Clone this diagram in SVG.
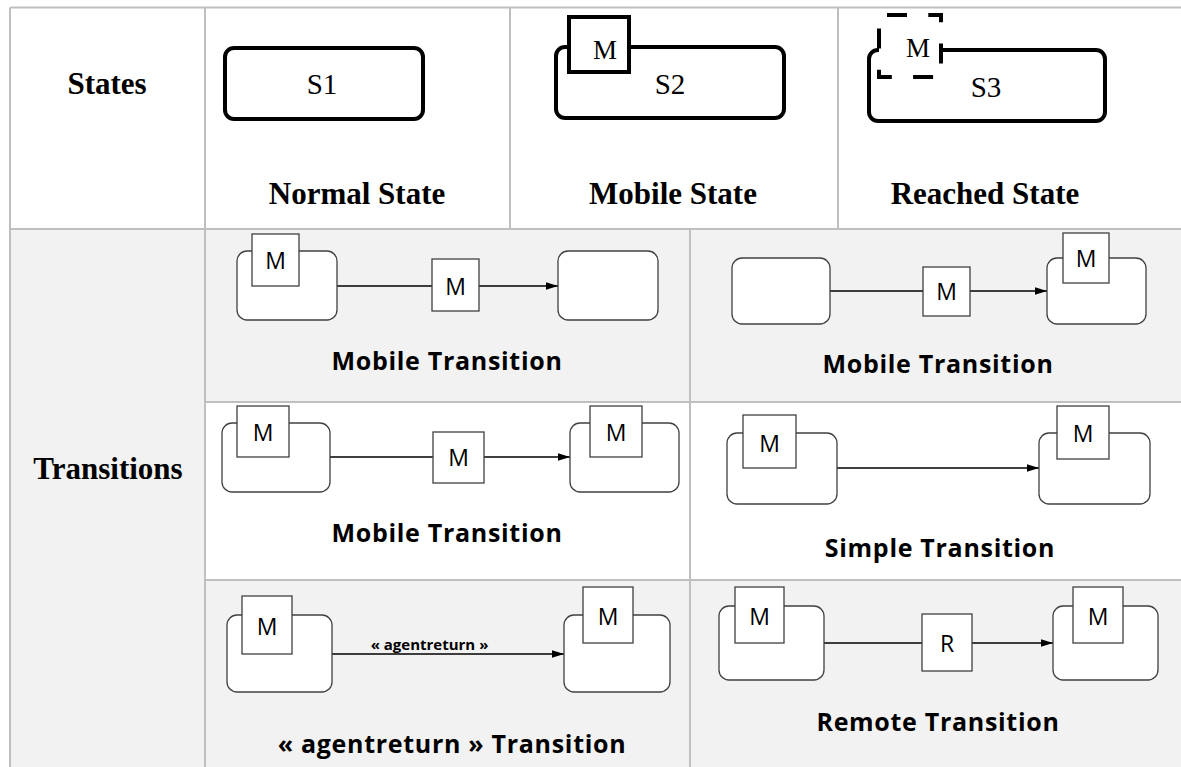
<svg xmlns="http://www.w3.org/2000/svg" width="1181" height="767" viewBox="0 0 1181 767">
<defs>
<style>
.grid{stroke:#bfbfbf;stroke-width:2;fill:none}
.st{fill:#fff;stroke:#000;stroke-width:4}
.stm{fill:#fff;stroke:#000;stroke-width:4}
.dash{fill:#fff;stroke:#000;stroke-width:4;stroke-dasharray:20 21.3;stroke-dashoffset:33.3}
.tb{font-family:"Liberation Serif",serif;font-weight:bold;font-size:31px;text-anchor:middle;fill:#000}
.tr{font-family:"Liberation Serif",serif;font-size:29px;text-anchor:middle;fill:#000}
.trm{font-family:"Liberation Serif",serif;font-size:27px;text-anchor:middle;fill:#000}
.box{fill:#fff;stroke:#404040;stroke-width:1.3}
.tok{fill:#fff;stroke:#404040;stroke-width:1.3}
.m{font-family:"Open Sans",sans-serif;font-size:23px;text-anchor:middle;fill:#000}
.lbl{font-family:"Open Sans",sans-serif;font-weight:bold;font-size:25px;letter-spacing:0.7px;text-anchor:middle;fill:#000}
.small{font-family:"Open Sans",sans-serif;font-weight:bold;font-size:15px;text-anchor:middle;fill:#000}
.conn{stroke:#000;stroke-width:1.3;fill:none}
</style>
<marker id="arr" markerUnits="userSpaceOnUse" markerWidth="12" markerHeight="8" refX="12" refY="4" orient="auto">
<path d="M0,0.3 L12,4 L0,7.7 z" fill="#000"/>
</marker>
</defs>
<rect width="1181" height="767" fill="#fff"/>
<g id="backgrounds">
<rect x="10" y="229" width="195" height="538" fill="#f2f2f2"/>
<rect x="205" y="229" width="976" height="173" fill="#f2f2f2"/>
<rect x="205" y="580" width="976" height="187" fill="#f2f2f2"/>
</g>
<g id="grid" class="grid">
<line x1="10" y1="7.5" x2="1181" y2="7.5"/>
<line x1="10" y1="229" x2="1181" y2="229"/>
<line x1="205" y1="402" x2="1181" y2="402"/>
<line x1="205" y1="580" x2="1181" y2="580"/>
<line x1="10" y1="7.5" x2="10" y2="767"/>
<line x1="205" y1="7.5" x2="205" y2="767"/>
<line x1="510" y1="7.5" x2="510" y2="229"/>
<line x1="838" y1="7.5" x2="838" y2="229"/>
<line x1="690" y1="229" x2="690" y2="767"/>
</g>
<g id="row-labels">
<text class="tb" x="107" y="94">States</text>
<text class="tb" x="108" y="479">Transitions</text>
</g>
<g id="normal-state">
<rect class="st" x="225" y="48" width="198" height="71" rx="9"/>
<text class="tr" x="322" y="94">S1</text>
<text class="tb" x="357" y="204">Normal State</text>
</g>
<g id="mobile-state">
<rect class="st" x="556" y="47" width="228" height="71" rx="9"/>
<rect class="stm" x="569" y="17" width="60" height="55"/>
<text class="trm" x="605" y="59">M</text>
<text class="tr" x="670" y="94">S2</text>
<text class="tb" x="673" y="204">Mobile State</text>
</g>
<g id="reached-state">
<rect class="st" x="869" y="50" width="236" height="71" rx="9"/>
<rect class="dash" x="879" y="15" width="62" height="62"/>
<text class="trm" x="918" y="57">M</text>
<text class="tr" x="986" y="97">S3</text>
<text class="tb" x="985" y="204">Reached State</text>
</g>
<g id="connectors">
<line class="conn" x1="337" y1="286" x2="558" y2="286" marker-end="url(#arr)"/>
<line class="conn" x1="830" y1="291" x2="1047" y2="291" marker-end="url(#arr)"/>
<line class="conn" x1="330" y1="457" x2="570" y2="457" marker-end="url(#arr)"/>
<line class="conn" x1="837" y1="468" x2="1039" y2="468" marker-end="url(#arr)"/>
<line class="conn" x1="332" y1="654" x2="564" y2="654" marker-end="url(#arr)"/>
<line class="conn" x1="824" y1="643" x2="1053" y2="643" marker-end="url(#arr)"/>
</g>
<g id="mobile-transition-1">
<rect class="box" x="237" y="251" width="100" height="69" rx="10"/>
<rect class="tok" x="252" y="234" width="47" height="52"/>
<text class="m" x="275.5" y="269">M</text>
<rect class="tok" x="432" y="259" width="47" height="52"/>
<text class="m" x="455.5" y="295">M</text>
<rect class="box" x="558" y="251" width="100" height="69" rx="10"/>
<text class="lbl" x="447" y="370">Mobile Transition</text>
</g>
<g id="mobile-transition-2">
<rect class="box" x="732" y="258" width="98" height="66" rx="10"/>
<rect class="tok" x="923" y="267" width="47" height="49"/>
<text class="m" x="946.5" y="300">M</text>
<rect class="box" x="1047" y="258" width="99" height="66" rx="10"/>
<rect class="tok" x="1063" y="233" width="46" height="50"/>
<text class="m" x="1086" y="267">M</text>
<text class="lbl" x="938" y="373">Mobile Transition</text>
</g>
<g id="mobile-transition-3">
<rect class="box" x="222" y="423" width="108" height="69" rx="10"/>
<rect class="tok" x="237" y="406" width="52" height="51"/>
<text class="m" x="263" y="441">M</text>
<rect class="tok" x="433" y="432" width="51" height="51"/>
<text class="m" x="458.5" y="466">M</text>
<rect class="box" x="570" y="423" width="109" height="69" rx="10"/>
<rect class="tok" x="590" y="406" width="52" height="51"/>
<text class="m" x="616" y="441">M</text>
<text class="lbl" x="447" y="542">Mobile Transition</text>
</g>
<g id="simple-transition">
<rect class="box" x="727" y="433" width="110" height="71" rx="10"/>
<rect class="tok" x="743" y="415" width="53" height="53"/>
<text class="m" x="769.5" y="452">M</text>
<rect class="box" x="1039" y="433" width="111" height="71" rx="10"/>
<rect class="tok" x="1057" y="406" width="52" height="53"/>
<text class="m" x="1083" y="442">M</text>
<text class="lbl" x="940" y="557">Simple Transition</text>
</g>
<g id="agentreturn-transition">
<rect class="box" x="227" y="615" width="105" height="77" rx="10"/>
<rect class="tok" x="242" y="596" width="50" height="58"/>
<text class="m" x="267" y="635">M</text>
<text class="small" x="429.5" y="650">« agentreturn »</text>
<rect class="box" x="564" y="615" width="106" height="77" rx="10"/>
<rect class="tok" x="583" y="587" width="50" height="56"/>
<text class="m" x="608" y="625">M</text>
<text class="lbl" x="452" y="753">« agentreturn » Transition</text>
</g>
<g id="remote-transition">
<rect class="box" x="719" y="606" width="105" height="74" rx="10"/>
<rect class="tok" x="735" y="587" width="49" height="56"/>
<text class="m" x="759.5" y="625">M</text>
<rect class="tok" x="922" y="614" width="50" height="57"/>
<text class="m" x="947" y="652">R</text>
<rect class="box" x="1053" y="606" width="105" height="74" rx="10"/>
<rect class="tok" x="1073" y="587" width="50" height="56"/>
<text class="m" x="1098" y="625">M</text>
<text class="lbl" x="938" y="731">Remote Transition</text>
</g>
</svg>
